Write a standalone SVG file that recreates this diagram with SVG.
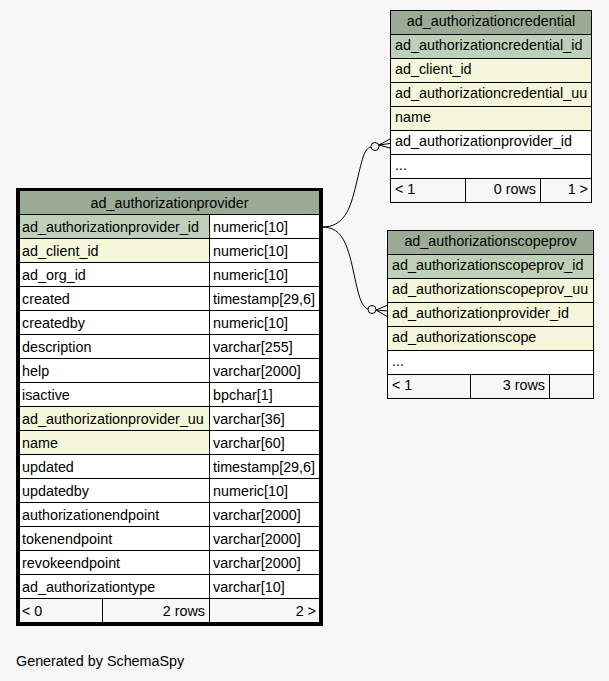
<svg xmlns="http://www.w3.org/2000/svg" width="609" height="681" viewBox="0 0 609 681">
<style>
text{font-family:"Liberation Sans",Arial,sans-serif;font-size:14.35px;fill:#000}
.c{stroke:#000;stroke-width:1}
.h{fill:#9bab96}
.pk{fill:#bed1b8}
.ix{fill:#f4f7da}
.w{fill:#ffffff}
.f{fill:#f7f7f7}
.mid{text-anchor:middle}
.end{text-anchor:end}
.edge{fill:none;stroke:#000;stroke-width:1}
</style>
<rect x="0" y="0" width="609" height="681" fill="#f7f7f7"/>

<g id="connectors">
<path class="edge" d="M322,227 C344,227 350,210 356,185 C362,160 364,148 371,147"/>
<circle class="edge" cx="375" cy="146.5" r="4"/>
<path class="edge" d="M379,145 L390,139 M379,145 L390,143.5 M379,145 L390,148"/>
<path class="edge" d="M322,227 C340,227 346,240 352,265 C358,292 360,306 368,309"/>
<circle class="edge" cx="372" cy="309.5" r="4"/>
<path class="edge" d="M376,310 L388,305 M376,310 L388,311 M376,310 L388,317"/>
</g>

<g id="ad_authorizationprovider">
<rect class="c h" x="19.5" y="190.5" width="300" height="24"/>
<text class="mid" x="169.5" y="208">ad_authorizationprovider</text>
<rect class="c pk" x="19.5" y="214.5" width="190" height="24"/><rect class="c w" x="209.5" y="214.5" width="110" height="24"/>
<rect class="c ix" x="19.5" y="238.5" width="190" height="24"/><rect class="c w" x="209.5" y="238.5" width="110" height="24"/>
<rect class="c w" x="19.5" y="262.5" width="190" height="24"/><rect class="c w" x="209.5" y="262.5" width="110" height="24"/>
<rect class="c w" x="19.5" y="286.5" width="190" height="24"/><rect class="c w" x="209.5" y="286.5" width="110" height="24"/>
<rect class="c w" x="19.5" y="310.5" width="190" height="24"/><rect class="c w" x="209.5" y="310.5" width="110" height="24"/>
<rect class="c w" x="19.5" y="334.5" width="190" height="24"/><rect class="c w" x="209.5" y="334.5" width="110" height="24"/>
<rect class="c w" x="19.5" y="358.5" width="190" height="24"/><rect class="c w" x="209.5" y="358.5" width="110" height="24"/>
<rect class="c w" x="19.5" y="382.5" width="190" height="24"/><rect class="c w" x="209.5" y="382.5" width="110" height="24"/>
<rect class="c ix" x="19.5" y="406.5" width="190" height="24"/><rect class="c w" x="209.5" y="406.5" width="110" height="24"/>
<rect class="c ix" x="19.5" y="430.5" width="190" height="24"/><rect class="c w" x="209.5" y="430.5" width="110" height="24"/>
<rect class="c w" x="19.5" y="454.5" width="190" height="24"/><rect class="c w" x="209.5" y="454.5" width="110" height="24"/>
<rect class="c w" x="19.5" y="478.5" width="190" height="24"/><rect class="c w" x="209.5" y="478.5" width="110" height="24"/>
<rect class="c w" x="19.5" y="502.5" width="190" height="24"/><rect class="c w" x="209.5" y="502.5" width="110" height="24"/>
<rect class="c w" x="19.5" y="526.5" width="190" height="24"/><rect class="c w" x="209.5" y="526.5" width="110" height="24"/>
<rect class="c w" x="19.5" y="550.5" width="190" height="24"/><rect class="c w" x="209.5" y="550.5" width="110" height="24"/>
<rect class="c w" x="19.5" y="574.5" width="190" height="24"/><rect class="c w" x="209.5" y="574.5" width="110" height="24"/>
<rect class="c f" x="19.5" y="598.5" width="83" height="24"/><rect class="c f" x="102.5" y="598.5" width="107" height="24"/><rect class="c f" x="209.5" y="598.5" width="110" height="24"/>
<rect x="17.5" y="189.5" width="304" height="435" fill="none" stroke="#000" stroke-width="3"/>
<text x="22" y="232">ad_authorizationprovider_id</text><text x="213" y="232">numeric[10]</text>
<text x="22" y="256">ad_client_id</text><text x="213" y="256">numeric[10]</text>
<text x="22" y="280">ad_org_id</text><text x="213" y="280">numeric[10]</text>
<text x="22" y="304">created</text><text x="213" y="304">timestamp[29,6]</text>
<text x="22" y="328">createdby</text><text x="213" y="328">numeric[10]</text>
<text x="22" y="352">description</text><text x="213" y="352">varchar[255]</text>
<text x="22" y="376">help</text><text x="213" y="376">varchar[2000]</text>
<text x="22" y="400">isactive</text><text x="213" y="400">bpchar[1]</text>
<text x="22" y="424">ad_authorizationprovider_uu</text><text x="213" y="424">varchar[36]</text>
<text x="22" y="448">name</text><text x="213" y="448">varchar[60]</text>
<text x="22" y="472">updated</text><text x="213" y="472">timestamp[29,6]</text>
<text x="22" y="496">updatedby</text><text x="213" y="496">numeric[10]</text>
<text x="22" y="520">authorizationendpoint</text><text x="213" y="520">varchar[2000]</text>
<text x="22" y="544">tokenendpoint</text><text x="213" y="544">varchar[2000]</text>
<text x="22" y="568">revokeendpoint</text><text x="213" y="568">varchar[2000]</text>
<text x="22" y="592">ad_authorizationtype</text><text x="213" y="592">varchar[10]</text>
<text x="22" y="616">&lt; 0</text><text class="end" x="205" y="616">2 rows</text><text class="end" x="316" y="616">2 &gt;</text>
</g>

<g id="ad_authorizationcredential">
<rect class="c h" x="390.5" y="10.5" width="201" height="24"/>
<text class="mid" x="491" y="26">ad_authorizationcredential</text>
<rect class="c pk" x="390.5" y="34.5" width="201" height="24"/>
<rect class="c ix" x="390.5" y="58.5" width="201" height="24"/>
<rect class="c ix" x="390.5" y="82.5" width="201" height="24"/>
<rect class="c ix" x="390.5" y="106.5" width="201" height="24"/>
<rect class="c w" x="390.5" y="130.5" width="201" height="24"/>
<rect class="c w" x="390.5" y="154.5" width="201" height="24"/>
<rect class="c f" x="390.5" y="178.5" width="75" height="24"/><rect class="c f" x="465.5" y="178.5" width="75" height="24"/><rect class="c f" x="540.5" y="178.5" width="51" height="24"/>
<text x="395" y="50">ad_authorizationcredential_id</text>
<text x="395" y="74">ad_client_id</text>
<text x="395" y="98">ad_authorizationcredential_uu</text>
<text x="395" y="122">name</text>
<text x="395" y="146">ad_authorizationprovider_id</text>
<text x="395" y="170">...</text>
<text x="395" y="194">&lt; 1</text><text class="end" x="536" y="194">0 rows</text><text class="end" x="588" y="194">1 &gt;</text>
</g>

<g id="ad_authorizationscopeprov">
<rect class="c h" x="387.5" y="230.5" width="206" height="24"/>
<text class="mid" x="490.5" y="246">ad_authorizationscopeprov</text>
<rect class="c pk" x="387.5" y="254.5" width="206" height="24"/>
<rect class="c ix" x="387.5" y="278.5" width="206" height="24"/>
<rect class="c ix" x="387.5" y="302.5" width="206" height="24"/>
<rect class="c ix" x="387.5" y="326.5" width="206" height="24"/>
<rect class="c w" x="387.5" y="350.5" width="206" height="24"/>
<rect class="c f" x="387.5" y="374.5" width="83" height="24"/><rect class="c f" x="470.5" y="374.5" width="79" height="24"/><rect class="c f" x="549.5" y="374.5" width="44" height="24"/>
<text x="392" y="270">ad_authorizationscopeprov_id</text>
<text x="392" y="294">ad_authorizationscopeprov_uu</text>
<text x="392" y="318">ad_authorizationprovider_id</text>
<text x="392" y="342">ad_authorizationscope</text>
<text x="392" y="366">...</text>
<text x="392" y="390">&lt; 1</text><text class="end" x="545" y="390">3 rows</text>
</g>

<text x="16" y="666">Generated by SchemaSpy</text>
</svg>
